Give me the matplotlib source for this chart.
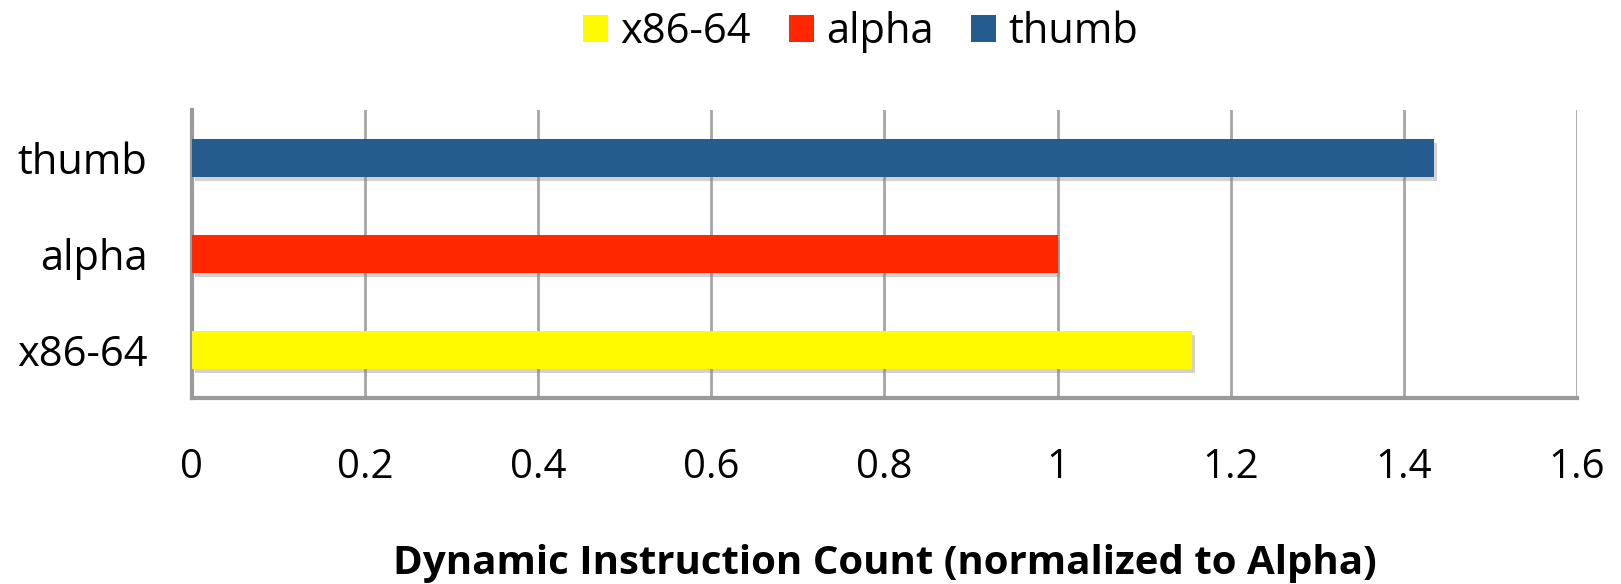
import matplotlib.pyplot as plt
import matplotlib.patheffects as pe
from matplotlib.patches import Patch

plt.rcParams['font.family'] = ['Open Sans', 'DejaVu Sans']

isas = ['x86-64', 'alpha', 'thumb']
counts = [1.155, 1.0, 1.435]
colores = ['#fffa00', '#ff2600', '#255b8f']
xticks = [0, 0.2, 0.4, 0.6, 0.8, 1.0, 1.2, 1.4, 1.6]
xtick_labels = ['0', '0.2', '0.4', '0.6', '0.8', '1', '1.2', '1.4', '1.6']

fig = plt.figure(figsize=(16.21, 5.84), dpi=100)
ax = fig.add_axes([0.1184, 0.3185, 0.8545, 0.4931])

sombra = [pe.SimplePatchShadow(offset=(2, -3), shadow_rgbFace='#808080', alpha=0.35), pe.Normal()]
barras = ax.barh(range(len(isas)), counts, height=0.4, color=colores, zorder=3)
for b in barras:
    b.set_path_effects(sombra)

ax.set_xlim(0, 1.6)
ax.set_ylim(-0.5, 2.5)
ax.set_xticks(xticks)
ax.set_xticklabels(xtick_labels, fontsize=29)
ax.set_yticks(range(len(isas)))
ax.set_yticklabels(isas, fontsize=30)
ax.tick_params(axis='x', length=0, pad=36)
ax.tick_params(axis='y', length=0, pad=32)

ax.grid(axis='x', color='#a6a6a6', linewidth=2, zorder=0)
for lado in ['top', 'right']:
    ax.spines[lado].set_visible(False)
for lado in ['left', 'bottom']:
    ax.spines[lado].set_color('#9a9a9a')
    ax.spines[lado].set_linewidth(3)

ax.set_xlabel('Dynamic Instruction Count (normalized to Alpha)', fontsize=29,
              fontweight='bold', labelpad=40)

handles = [Patch(facecolor=c) for c in colores]
fig.legend(handles, isas, loc='center', bbox_to_anchor=(0.531, 0.945), ncol=3,
           frameon=False, fontsize=30, handlelength=0.6, handleheight=0.6,
           handletextpad=0.3, columnspacing=0.9)

fig.savefig('out.png', dpi=100)
